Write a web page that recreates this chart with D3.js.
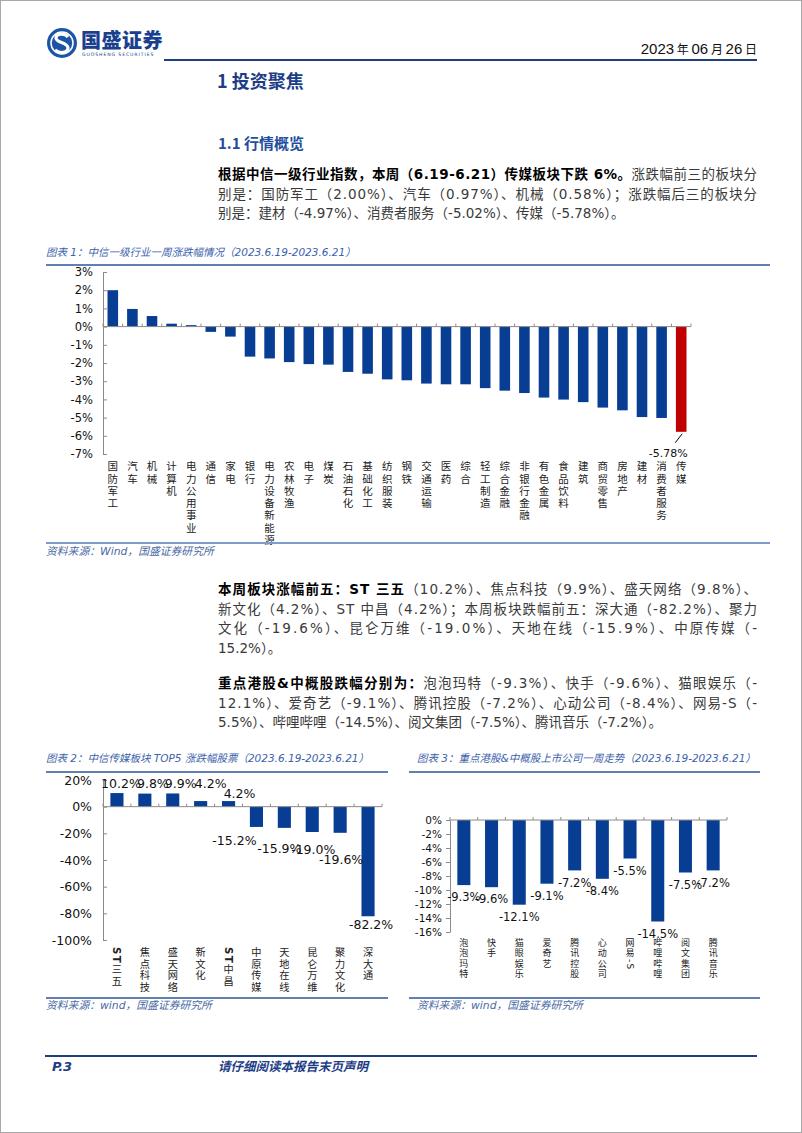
<!DOCTYPE html>
<html><head><meta charset="utf-8">
<script src="https://cdn.jsdelivr.net/npm/d3@7"></script>
<style>
html,body{margin:0;padding:0;background:#fff;}
svg{display:block;}
</style></head><body>
<svg id="page" width="802" height="1133"></svg>
<script>
// ---------------- data ----------------
const industries = ["国防军工","汽车","机械","计算机","电力公用事业","通信","家电","银行","电力设备新能源","农林牧渔","电子","煤炭","石油石化","基础化工","纺织服装","钢铁","交通运输","医药","综合","轻工制造","综合金融","非银行金融","有色金属","食品饮料","建筑","商贸零售","房地产","建材","消费者服务","传媒"];
const industryChange = [2.00,0.97,0.58,0.16,0.08,-0.29,-0.55,-1.65,-1.75,-1.95,-2.06,-2.09,-2.49,-2.59,-2.90,-2.95,-3.13,-3.17,-3.17,-3.38,-3.52,-3.65,-3.90,-4.01,-4.15,-4.45,-4.60,-4.97,-5.02,-5.78];
const industryTicks = [3,2,1,0,-1,-2,-3,-4,-5,-6,-7];

const stocks = ["ST三五","焦点科技","盛天网络","新文化","ST中昌","中原传媒","天地在线","昆仑万维","聚力文化","深大通"];
const stockChange = [10.2,9.8,9.9,4.2,4.2,-15.2,-15.9,-19.0,-19.6,-82.2];
const stockTicks = [20,0,-20,-40,-60,-80,-100];

const hkStocks = ["泡泡玛特","快手","猫眼娱乐","爱奇艺","腾讯控股","心动公司","网易-S","哔哩哔哩","阅文集团","腾讯音乐"];
const hkChange = [-9.3,-9.6,-12.1,-9.1,-7.2,-8.4,-5.5,-14.5,-7.5,-7.2];
const hkTicks = [0,-2,-4,-6,-8,-10,-12,-14,-16];

// label nudges for chart 2 (layout only) [dx, dy]
const stockLabelNudge = [[4,0],[8,0],[8,0],[10,-8],[11,2],[-22,2],[-5,9],[1,5],[1,15],[3,-4]];

// ---------------- styles ----------------
const CJK = "'Noto Sans CJK SC', sans-serif";
const LAT = "'DejaVu Sans', 'Noto Sans CJK SC', sans-serif";
const NAVY = "#1d3d87";
const BAR = "#073d93";
const RED = "#c00000";
const TITLE_C = "#3c62aa";
const AXIS_C = "#8a8a8a";

const svg = d3.select("#page");
svg.append("rect").attr("x",0.5).attr("y",0.5).attr("width",801).attr("height",1132)
  .attr("fill","#fff").attr("stroke","#a8a8a8");

// ---------------- header ----------------
svg.append("circle").attr("cx",62).attr("cy",43).attr("r",15).attr("fill","#1d55a6");
svg.append("circle").attr("cx",62).attr("cy",43).attr("r",11).attr("fill","none").attr("stroke","#fff").attr("stroke-width",1.5);
svg.append("path").attr("d","M68,37 C65,33 56,33 56,38 C56,43 68,42 68,48 C68,53 59,54 55,50")
  .attr("fill","none").attr("stroke","#fff").attr("stroke-width",3.2);
svg.append("text").attr("x",81).attr("y",48).attr("font-family",CJK).attr("font-weight",900)
  .attr("font-size",20).attr("fill","#1b3f8f").attr("letter-spacing",0.5).text("国盛证券");
svg.append("text").attr("x",82).attr("y",56).attr("font-family","'DejaVu Sans'").attr("font-size",4.6)
  .attr("fill","#1b3f8f").attr("letter-spacing",0.9).text("GUOSHENG SECURITIES");
const dateT = svg.append("text").attr("x",757).attr("y",54).attr("text-anchor","end")
  .attr("font-family","'Liberation Sans Narrow','Liberation Sans',sans-serif").attr("fill","#111");
[["2023",15],[" 年 ",12],["06",15],[" 月 ",12],["26",15],[" 日",12]].forEach(([t,s])=>{
  dateT.append("tspan").attr("font-size",s).attr("font-family", s===12?CJK:"'Liberation Sans Narrow','Liberation Sans',sans-serif").text(t);
});
svg.append("line").attr("x1",164).attr("x2",757).attr("y1",60).attr("y2",60)
  .attr("stroke","#1f3f7a").attr("stroke-width",2);

svg.append("text").attr("x",217).attr("y",88).attr("font-family",CJK).attr("font-weight",700)
  .attr("font-size",18).attr("fill",NAVY).text("1 投资聚焦");
svg.append("text").attr("x",218).attr("y",149).attr("font-family",CJK).attr("font-weight",700)
  .attr("font-size",15).attr("fill","#1f4e9e").text("1.1 行情概览");

// ---------------- paragraphs ----------------
function para(lines, x, y0, lh, width){
  lines.forEach((ln,i)=>{
    const t = svg.append("text").attr("x",x).attr("y",y0+i*lh)
      .attr("font-family",LAT).attr("font-size",13.5);
    if(ln.j){ t.attr("textLength",width).attr("lengthAdjust","spacing"); }
    ln.s.forEach(([txt,b])=>{
      t.append("tspan").attr("font-weight",b?700:400).attr("fill",b?"#000":"#3a3a3a").text(txt);
    });
  });
}
para([
  {j:true, s:[["根据中信一级行业指数，本周（6.19-6.21）传媒板块下跌 6%。",1],["涨跌幅前三的板块分",0]]},
  {j:true, s:[["别是：国防军工（2.00%）、汽车（0.97%）、机械（0.58%）；涨跌幅后三的板块分",0]]},
  {j:false,s:[["别是：建材（-4.97%）、消费者服务（-5.02%）、传媒（-5.78%）。",0]]}
],218,179,19.5,539);
para([
  {j:true, s:[["本周板块涨幅前五：ST 三五",1],["（10.2%）、焦点科技（9.9%）、盛天网络（9.8%）、",0]]},
  {j:true, s:[["新文化（4.2%）、ST 中昌（4.2%）；本周板块跌幅前五：深大通（-82.2%）、聚力",0]]},
  {j:true, s:[["文化（-19.6%）、昆仑万维（-19.0%）、天地在线（-15.9%）、中原传媒（-",0]]},
  {j:false,s:[["15.2%）。",0]]}
],218,594,19.5,539);
para([
  {j:true, s:[["重点港股&中概股跌幅分别为：",1],["泡泡玛特（-9.3%）、快手（-9.6%）、猫眼娱乐（-",0]]},
  {j:true, s:[["12.1%）、爱奇艺（-9.1%）、腾讯控股（-7.2%）、心动公司（-8.4%）、网易-S（-",0]]},
  {j:false,s:[["5.5%）、哔哩哔哩（-14.5%）、阅文集团（-7.5%）、腾讯音乐（-7.2%）。",0]]}
],218,688,19.5,539);

// ---------------- helpers ----------------
function chartTitle(x,y,txt){
  svg.append("text").attr("x",x).attr("y",y).attr("font-family",LAT).attr("font-style","italic")
    .attr("font-size",10.5).attr("fill",TITLE_C).text(txt);
}
function sourceNote(x,y,txt){
  svg.append("text").attr("x",x).attr("y",y).attr("font-family",LAT).attr("font-style","italic")
    .attr("font-size",10.8).attr("fill","#4a6aa5").text(txt);
}
function hline(x1,x2,y,color,w){
  svg.append("line").attr("x1",x1).attr("x2",x2).attr("y1",y).attr("y2",y)
    .attr("stroke",color).attr("stroke-width",w);
}
// vertical category label: one text element, upright CJK, Latin rotated
function vlabel(g, text, cx, top, spacing, fs, boldLatin){
  const t = g.append("text").attr("x",cx).attr("y",top)
    .attr("style",`writing-mode:vertical-rl;text-orientation:mixed;letter-spacing:${spacing-fs}px`)
    .attr("font-family",CJK).attr("font-size",fs).attr("fill","#222");
  const parts = text.match(/[\x21-\x7e]+|[^\x21-\x7e]+/gu);
  parts.forEach(p=>{
    const latin = /^[\x21-\x7e]+$/.test(p);
    t.append("tspan").attr("font-family", latin?"'DejaVu Sans',sans-serif":CJK)
      .attr("font-weight", latin&&boldLatin?700:400).text(p);
  });
}
function styleAxis(g, fs){
  g.select(".domain").attr("stroke",AXIS_C);
  g.selectAll(".tick line").attr("stroke",AXIS_C);
  g.selectAll(".tick text").attr("font-family",LAT).attr("font-size",fs).attr("fill","#111");
}
function catTicks(g, x, cats, y0, dir){
  const off = (x.step()-x.bandwidth())/2;
  const xs = cats.map(c=>x(c)-off); xs.push(x.range()[1]);
  g.append("line").attr("x1",x.range()[0]).attr("x2",x.range()[1]).attr("y1",y0).attr("y2",y0)
    .attr("stroke",AXIS_C);
  g.selectAll(null).data(xs).enter().append("line")
    .attr("x1",d=>d).attr("x2",d=>d).attr("y1",y0).attr("y2",y0+dir*3).attr("stroke","#9a8a78");
}

// ---------------- chart 1 ----------------
chartTitle(46,256,"图表 1：中信一级行业一周涨跌幅情况（2023.6.19-2023.6.21）");
hline(46,770,265,"#2e5597",1.6);
const g1 = svg.append("g");
const x1 = d3.scaleBand().domain(industries).range([103,691]).paddingInner(0.46).paddingOuter(0.23);
const y1 = d3.scaleLinear().domain([-7,3]).range([454,272]);
g1.selectAll("rect").data(industries).enter().append("rect")
  .attr("x",d=>x1(d)).attr("width",x1.bandwidth())
  .attr("y",(d,i)=>Math.min(y1(industryChange[i]),y1(0)))
  .attr("height",(d,i)=>Math.abs(y1(industryChange[i])-y1(0)))
  .attr("fill",(d,i)=>i===industries.length-1?RED:BAR);
const ax1 = g1.append("g").attr("transform","translate(103,0)")
  .call(d3.axisLeft(y1).tickValues(industryTicks).tickFormat(d=>d+"%").tickSizeInner(-4).tickSizeOuter(0).tickPadding(10));
styleAxis(ax1,11.5);
catTicks(g1,x1,industries,y1(0),-1);
{
  const last = industries.length-1;
  const cx = x1(industries[last])+x1.bandwidth()/2;
  const yb = y1(industryChange[last]);
  g1.append("line").attr("x1",cx+1).attr("y1",yb+2).attr("x2",cx-6).attr("y2",yb+11).attr("stroke","#000");
  g1.append("text").attr("x",cx-13).attr("y",yb+21).attr("dy","0.36em").attr("text-anchor","middle")
    .attr("font-family",LAT).attr("font-size",11).attr("fill","#111").text(industryChange[last].toFixed(2)+"%");
}
industries.forEach(d=>vlabel(g1,d,x1(d)+x1.bandwidth()/2,461,12.3,10.5,false));
hline(46,770,543,"#7f9bcc",2);
sourceNote(46,555,"资料来源：Wind，国盛证券研究所");

// ---------------- chart 2 ----------------
chartTitle(46,762,"图表 2：中信传媒板块 TOP5 涨跌幅股票（2023.6.19-2023.6.21）");
hline(46,388,772,"#2e5597",1.6);
const g2 = svg.append("g");
const x2 = d3.scaleBand().domain(stocks).range([103,382]).paddingInner(0.53).paddingOuter(0.265);
const y2 = d3.scaleLinear().domain([-100,20]).range([940,780]);
g2.selectAll("rect").data(stocks).enter().append("rect")
  .attr("x",d=>x2(d)).attr("width",x2.bandwidth())
  .attr("y",(d,i)=>Math.min(y2(stockChange[i]),y2(0)))
  .attr("height",(d,i)=>Math.abs(y2(stockChange[i])-y2(0)))
  .attr("fill",BAR);
const ax2 = g2.append("g").attr("transform","translate(103,0)")
  .call(d3.axisLeft(y2).tickValues(stockTicks).tickFormat(d=>d+"%").tickSizeInner(-4).tickSizeOuter(0).tickPadding(11));
styleAxis(ax2,12.5);
catTicks(g2,x2,stocks,y2(0),-1);
g2.selectAll("text.lab").data(stocks).enter().append("text").attr("class","lab")
  .attr("x",(d,i)=>x2(d)+x2.bandwidth()/2+stockLabelNudge[i][0])
  .attr("y",(d,i)=>{const v=stockChange[i]; return (v>=0? y2(v)-10 : y2(v)+12)+stockLabelNudge[i][1];})
  .attr("dy","0.36em").attr("text-anchor","middle").attr("font-family",LAT).attr("font-size",12.5)
  .attr("fill","#111").text((d,i)=>stockChange[i].toFixed(1)+"%");
stocks.forEach(d=>vlabel(g2,d,x2(d)+x2.bandwidth()/2,947,11.7,10.2,true));
hline(46,388,998,"#2e5597",1.6);
sourceNote(46,1009,"资料来源：wind，国盛证券研究所");

// ---------------- chart 3 ----------------
chartTitle(417,762,"图表 3：重点港股&中概股上市公司一周走势（2023.6.19-2023.6.21）");
hline(409,760,772,"#2e5597",1.6);
const g3 = svg.append("g");
const x3 = d3.scaleBand().domain(hkStocks).range([450,727]).paddingInner(0.53).paddingOuter(0.265);
const y3 = d3.scaleLinear().domain([-16,0]).range([932,820]);
g3.selectAll("rect").data(hkStocks).enter().append("rect")
  .attr("x",d=>x3(d)).attr("width",x3.bandwidth())
  .attr("y",(d,i)=>Math.min(y3(hkChange[i]),y3(0)))
  .attr("height",(d,i)=>Math.abs(y3(hkChange[i])-y3(0)))
  .attr("fill",BAR);
const ax3 = g3.append("g").attr("transform","translate(450,0)")
  .call(d3.axisLeft(y3).tickValues(hkTicks).tickFormat(d=>d+"%").tickSizeInner(4).tickSizeOuter(0).tickPadding(4));
styleAxis(ax3,10.5);
catTicks(g3,x3,hkStocks,y3(0),-1);
g3.selectAll("text.lab").data(hkStocks).enter().append("text").attr("class","lab")
  .attr("x",d=>x3(d)+x3.bandwidth()/2)
  .attr("y",(d,i)=>y3(hkChange[i])+12)
  .attr("dy","0.36em").attr("text-anchor","middle").attr("font-family",LAT).attr("font-size",11.5)
  .attr("fill","#111").text((d,i)=>hkChange[i].toFixed(1)+"%");
hkStocks.forEach(d=>vlabel(g3,d,x3(d)+x3.bandwidth()/2,938,10.3,9,false));
hline(409,760,998,"#2e5597",1.6);
sourceNote(417,1009,"资料来源：wind，国盛证券研究所");

// ---------------- footer ----------------
hline(45,757,1056,"#1f3f7a",2);
svg.append("text").attr("x",52).attr("y",1071).attr("font-family",LAT).attr("font-style","italic")
  .attr("font-weight",700).attr("font-size",13).attr("fill",NAVY).text("P.3");
svg.append("text").attr("x",218).attr("y",1071).attr("font-family",CJK).attr("font-style","italic")
  .attr("font-weight",700).attr("font-size",12.5).attr("fill",NAVY).text("请仔细阅读本报告末页声明");
</script>
</body></html>
